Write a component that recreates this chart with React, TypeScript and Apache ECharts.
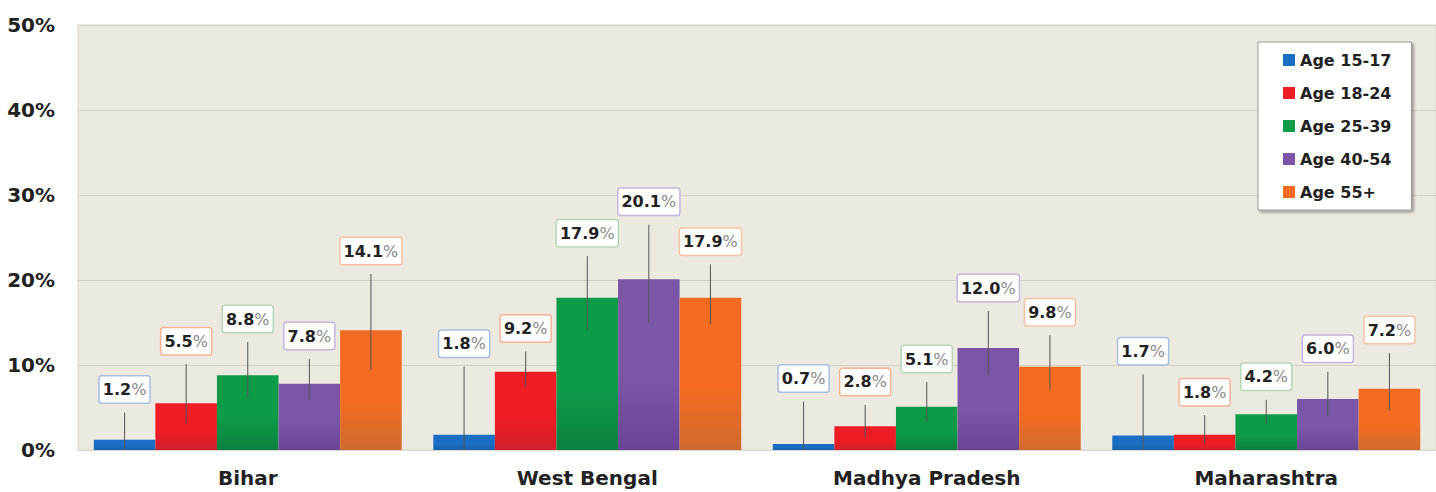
import React, { useEffect, useRef } from "react";
import * as echarts from "echarts";

const CATEGORIES = ["Bihar", "West Bengal", "Madhya Pradesh", "Maharashtra"];
const AGES = ["Age 15-17", "Age 18-24", "Age 25-39", "Age 40-54", "Age 55+"];
const Y_TICKS = [0, 10, 20, 30, 40, 50];

const age15_17 = [1.2, 1.8, 0.7, 1.7];
const age18_24 = [5.5, 9.2, 2.8, 1.8];
const age25_39 = [8.8, 17.9, 5.1, 4.2];
const age40_54 = [7.8, 20.1, 12.0, 6.0];
const age55plus = [14.1, 17.9, 9.8, 7.2];

const low15_17 = [0, 0, 0, 0];
const high15_17 = [4.4, 9.8, 5.7, 8.9];
const low18_24 = [3.1, 7.4, 1.45, 0.7];
const high18_24 = [10.1, 11.6, 5.3, 4.1];
const low25_39 = [6.15, 14.1, 3.25, 3.1];
const high25_39 = [12.7, 22.8, 8.0, 5.9];
const low40_54 = [5.9, 15.0, 8.8, 4.0];
const high40_54 = [10.7, 26.5, 16.35, 9.2];
const low55plus = [9.4, 14.8, 7.1, 4.6];
const high55plus = [20.7, 21.8, 13.5, 11.4];

const VALUES = [age15_17, age18_24, age25_39, age40_54, age55plus];
const LOWS = [low15_17, low18_24, low25_39, low40_54, low55plus];
const HIGHS = [high15_17, high18_24, high25_39, high40_54, high55plus];

const COLORS = [
  ["#1a6fc4", "#1660ab"],
  ["#ee1c25", "#cf1f2b"],
  ["#0e9b48", "#0b8040"],
  ["#7b56a6", "#6a4495"],
  ["#f26b21", "#cf6a2e"],
];
const LEGEND_COLORS = ["#1a6fc4", "#ee1c25", "#0e9b48", "#7b56a6", "#f26b21"];
const BOX_BORDERS = ["#a9bfe2", "#f3b395", "#b7d7b6", "#c6b5de", "#f4c3a6"];

const CAT_GAP = 0.093;
const FONT = "DejaVu Sans";

export default function App() {
  const ref = useRef<HTMLDivElement>(null);

  useEffect(() => {
    if (!ref.current) return;
    const chart = echarts.init(ref.current, undefined, { renderer: "svg" });
    const n = AGES.length;

    const barSeries = AGES.map((name, k) => ({
      name,
      type: "bar",
      data: VALUES[k],
      barGap: "0%",
      barCategoryGap: CAT_GAP * 100 + "%",
      itemStyle: {
        color: new echarts.graphic.LinearGradient(0, 0, 0, 1, [
          { offset: 0, color: COLORS[k][0] },
          { offset: 0.6, color: COLORS[k][0] },
          { offset: 1, color: COLORS[k][1] },
        ]),
      },
      z: 2,
    }));

    const errSeries = AGES.map((name, k) => ({
      name: "err" + k,
      type: "custom",
      z: 5,
      encode: { x: 0, y: [1, 2] },
      data: CATEGORIES.map((_, i) => [i, LOWS[k][i], HIGHS[k][i], VALUES[k][i]]),
      renderItem: (params: any, api: any) => {
        const cat = api.value(0);
        const lo = api.value(1);
        const hi = api.value(2);
        const v = api.value(3);
        const top = api.coord([cat, hi]);
        const bot = api.coord([cat, lo]);
        const band = api.size([1, 0])[0];
        const bw = (band * (1 - CAT_GAP)) / n;
        const x = top[0] + (k - (n - 1) / 2) * bw;
        return {
          type: "group",
          children: [
            {
              type: "line",
              shape: { x1: x, y1: top[1], x2: x, y2: bot[1] },
              style: { stroke: "#555", lineWidth: 1 },
            },
            {
              type: "text",
              x,
              y: top[1] - 10,
              style: {
                text: `{n|${Number(v).toFixed(1)}}{p|%}`,
                align: "center",
                verticalAlign: "bottom",
                backgroundColor: "#ffffff",
                borderColor: BOX_BORDERS[k],
                borderWidth: 1.5,
                borderRadius: 2,
                padding: [5, 3, 5, 3],
                rich: {
                  n: {
                    fontFamily: FONT,
                    fontWeight: "bold",
                    fontSize: 16,
                    fill: "#222",
                    color: "#222",
                  },
                  p: {
                    fontFamily: FONT,
                    fontSize: 16,
                    fill: "#8a8a8a",
                    color: "#8a8a8a",
                  },
                },
              },
            },
          ],
        };
      },
    }));

    chart.setOption({
      animation: false,
      backgroundColor: "#ffffff",
      grid: {
        left: 78,
        top: 25,
        width: 1366,
        height: 425,
        show: true,
        backgroundColor: "#ece9e0",
        borderColor: "#d9d6cd",
        borderWidth: 1,
        containLabel: false,
      },
      legend: {
        data: AGES.map((name, k) => ({ name, itemStyle: { color: LEGEND_COLORS[k] } })),
        orient: "vertical",
        left: 1258,
        top: 42,
        padding: [10, 20, 10, 25],
        itemGap: 17,
        itemWidth: 12,
        itemHeight: 12,
        icon: "rect",
        backgroundColor: "#ffffff",
        borderColor: "#9a9a9a",
        borderWidth: 1,
        shadowColor: "rgba(0,0,0,0.35)",
        shadowBlur: 3,
        shadowOffsetX: 2,
        shadowOffsetY: 2,
        textStyle: {
          fontFamily: FONT,
          fontWeight: "bold",
          fontSize: 16,
          color: "#222",
        },
      },
      xAxis: {
        type: "category",
        data: CATEGORIES,
        axisTick: { show: false },
        axisLine: { show: true, lineStyle: { color: "#d9d6cd" } },
        axisLabel: {
          margin: 18,
          fontFamily: FONT,
          fontWeight: "bold",
          fontSize: 20,
          color: "#222",
        },
      },
      yAxis: {
        type: "value",
        min: Y_TICKS[0],
        max: Y_TICKS[Y_TICKS.length - 1],
        interval: 10,
        axisLine: { show: false },
        axisTick: { show: false },
        splitLine: { lineStyle: { color: "#d3d0c7", width: 1 } },
        axisLabel: {
          formatter: "{value}%",
          margin: 23,
          fontFamily: FONT,
          fontWeight: "bold",
          fontSize: 20,
          color: "#222",
        },
      },
      series: [...barSeries, ...errSeries],
    });

    return () => chart.dispose();
  }, []);

  return (
    <div
      ref={ref}
      style={{ position: "fixed", left: 0, top: 0, width: 1436, height: 492 }}
    />
  );
}
